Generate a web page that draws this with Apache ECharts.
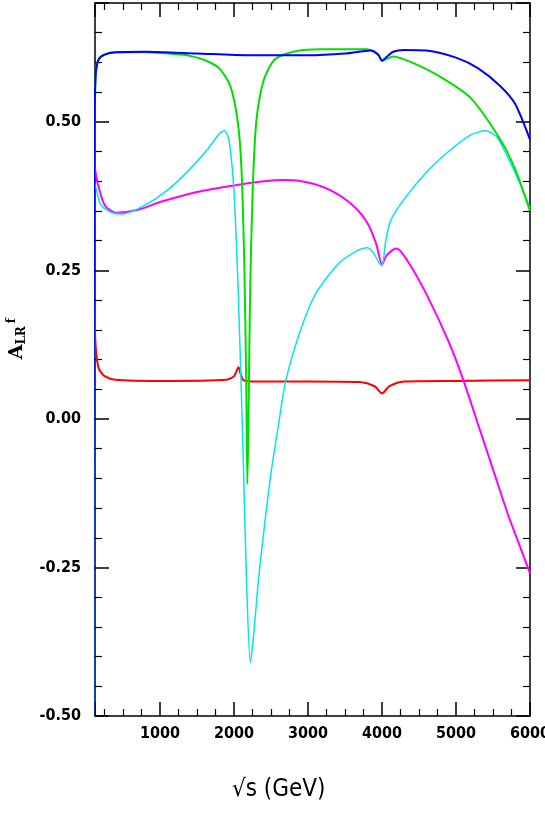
<!DOCTYPE html>
<html>
<head>
<meta charset="utf-8">
<script src="https://cdn.jsdelivr.net/npm/echarts@6/dist/echarts.min.js"></script>
<style>html,body{margin:0;padding:0;background:#fff}#chart{width:545px;height:817px}</style>
</head>
<body>
<div id="chart"></div>
<script>
// curves: [sqrt(s) GeV, A_LR]
var blue = [[100,-0.5],[105,0.2],[115,0.5],[130,0.58],[170,0.605],[250,0.613],[400,0.617],[800,0.618],[1500,0.615],[2200,0.612],[3000,0.612],[3500,0.615],[3850,0.62],[3950,0.613],[4000,0.603],[4050,0.608],[4150,0.618],[4300,0.621],[4600,0.62],[5000,0.608],[5300,0.59],[5600,0.56],[5800,0.53],[6000,0.47]];
var green = [[100,-0.5],[105,0.2],[115,0.5],[130,0.58],[170,0.605],[250,0.613],[400,0.617],[800,0.617],[1200,0.614],[1400,0.611],[1600,0.604],[1800,0.59],[1950,0.56],[2050,0.5],[2100,0.42],[2140,0.25],[2165,0.05],[2180,-0.11],[2195,0.0],[2215,0.2],[2250,0.38],[2300,0.5],[2400,0.57],[2550,0.605],[2800,0.618],[3200,0.622],[3800,0.622],[3950,0.612],[4000,0.602],[4050,0.605],[4150,0.61],[4400,0.6],[4800,0.575],[5200,0.54],[5600,0.47],[5800,0.42],[6000,0.35]];
var cyan = [[100,-0.2],[103,0.1],[108,0.4],[130,0.39],[200,0.36],[350,0.347],[500,0.345],[800,0.36],[1100,0.385],[1400,0.42],[1650,0.455],[1800,0.48],[1870,0.485],[1930,0.47],[2000,0.38],[2060,0.2],[2120,-0.05],[2170,-0.28],[2220,-0.41],[2260,-0.37],[2330,-0.27],[2420,-0.17],[2500,-0.09],[2600,-0.01],[2700,0.065],[2900,0.15],[3100,0.21],[3400,0.26],[3650,0.282],[3800,0.288],[3880,0.28],[3950,0.265],[4000,0.258],[4050,0.3],[4120,0.335],[4300,0.37],[4600,0.415],[4900,0.45],[5200,0.478],[5400,0.485],[5550,0.475],[5700,0.44],[5850,0.4],[6000,0.355]];
var magenta = [[100,-0.3],[103,0.1],[108,0.43],[150,0.4],[250,0.36],[400,0.347],[700,0.352],[1000,0.365],[1500,0.382],[2000,0.393],[2400,0.4],[2700,0.402],[3000,0.398],[3300,0.385],[3600,0.36],[3800,0.33],[3920,0.295],[4000,0.26],[4060,0.275],[4150,0.285],[4200,0.287],[4350,0.265],[4600,0.21],[4900,0.13],[5100,0.065],[5300,-0.01],[5500,-0.085],[5700,-0.16],[5850,-0.21],[6000,-0.26]];
var red = [[100,-0.02],[104,0.1],[110,0.18],[130,0.12],[170,0.085],[250,0.072],[400,0.066],[1000,0.064],[1900,0.066],[2000,0.072],[2060,0.087],[2090,0.075],[2130,0.065],[2300,0.063],[3000,0.063],[3700,0.062],[3900,0.055],[4000,0.043],[4100,0.055],[4300,0.063],[5000,0.064],[6000,0.065]];

var chart = echarts.init(document.getElementById('chart'));
var font = "'Liberation Sans Narrow','DejaVu Sans Condensed',sans-serif";

function xAx(show) {
  return {
    type: 'value', min: 120, max: 6000, position: show ? 'bottom' : 'top',
    axisLine: {show: true, onZero: false, lineStyle: {color: '#000', width: 1.5}},
    axisTick: {inside: true, length: 14, lineStyle: {color: '#000', width: 1.5}},
    minorTick: {show: true, splitNumber: 4, length: 7, lineStyle: {color: '#000', width: 1.2}},
    splitLine: {show: false},
    axisLabel: {show: show, color: '#000', fontFamily: font, fontWeight: 'bold', fontSize: 16, margin: 10,
      formatter: function (v) { return v % 1000 === 0 ? String(v) : ''; }}
  };
}
function yAx(show) {
  return {
    type: 'value', min: -0.5, max: 0.7, interval: 0.25, position: show ? 'left' : 'right',
    axisLine: {show: true, onZero: false, lineStyle: {color: '#000', width: 1.5}},
    axisTick: {inside: true, length: 14, lineStyle: {color: '#000', width: 1.5}},
    minorTick: {show: true, splitNumber: 5, length: 7, lineStyle: {color: '#000', width: 1.2}},
    splitLine: {show: false},
    axisLabel: {show: show, color: '#000', fontFamily: font, fontWeight: 'bold', fontSize: 16, margin: 14,
      formatter: function (v) { return v > 0.6 ? '' : v.toFixed(2); }}
  };
}
function line(data, color, w) {
  return {type: 'line', data: data, showSymbol: false, smooth: 0.25,
    lineStyle: {color: color, width: w}, xAxisIndex: 0, yAxisIndex: 0, z: 2};
}

chart.setOption({
  animation: false,
  grid: {left: 95, right: 15, top: 3, bottom: 101, outerBoundsMode: 'none', containLabel: false},
  xAxis: [xAx(true), xAx(false)],
  yAxis: [yAx(true), yAx(false)],
  graphic: [
    {type: 'text', left: 232, top: 778, style: {text: '\u221As (GeV)', font: '24px ' + font, fill: '#000'}},
    {type: 'text', left: 6, top: 318, rotation: Math.PI / 2,
      style: {text: '{a|A}{s|LR}{f|f}', fill: '#000',
        rich: {
          a: {font: 'bold 19px "DejaVu Serif",serif', fill: '#000'},
          s: {font: 'bold 12px "DejaVu Serif",serif', fill: '#000', verticalAlign: 'bottom', padding: [10, 0, 0, 0]},
          f: {font: 'bold 12px "DejaVu Serif",serif', fill: '#000', verticalAlign: 'top', padding: [0, 0, 10, 3]}
        }}}
  ],
  series: [
    line(red, '#ff0000', 2),
    line(magenta, '#ff00ff', 2),
    line(cyan, '#00e5ee', 1.5),
    line(green, '#00e000', 2),
    line(blue, '#0000ff', 2)
  ]
});
</script>
</body>
</html>
